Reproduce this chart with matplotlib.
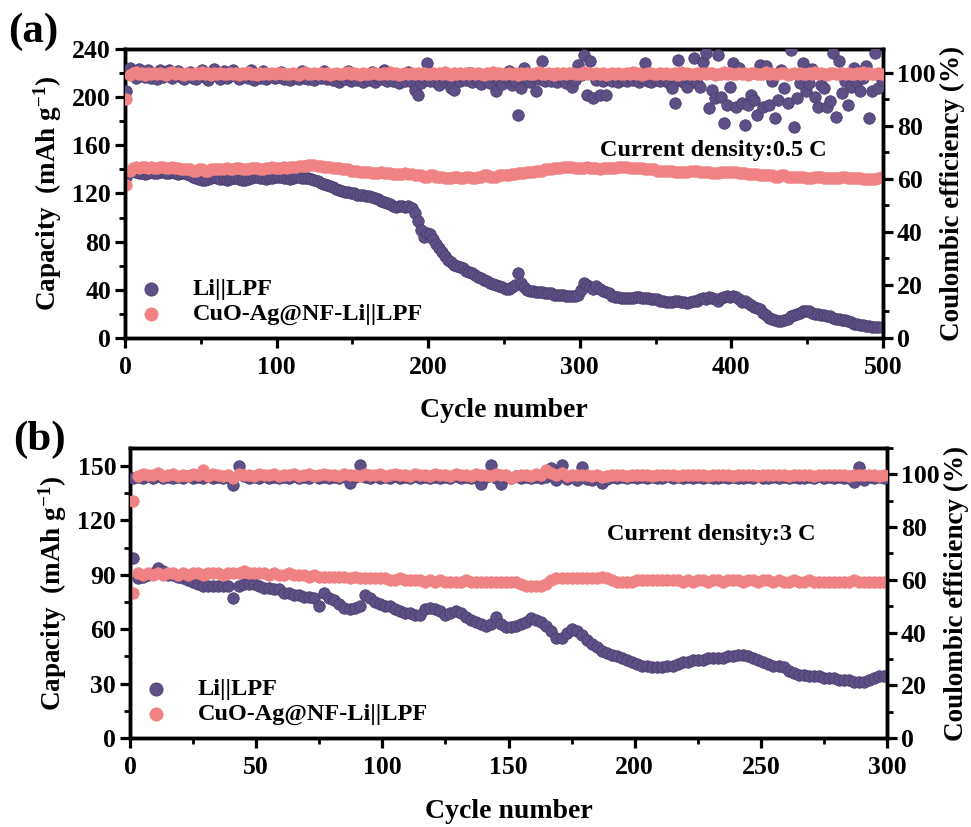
import numpy as np
import matplotlib
matplotlib.use("Agg")
import matplotlib.pyplot as plt
from matplotlib.ticker import MultipleLocator

plt.rcParams['font.family'] = ['Liberation Serif', 'DejaVu Serif']
plt.rcParams['font.weight'] = 'bold'
plt.rcParams['axes.labelweight'] = 'bold'
plt.rcParams['mathtext.fontset'] = 'custom'
plt.rcParams['mathtext.rm'] = 'Liberation Serif:bold'
plt.rcParams['mathtext.bf'] = 'Liberation Serif:bold'
plt.rcParams['mathtext.default'] = 'bf'

# ---- data, panel (a): 0.5 C, every 2nd cycle ----
cyc_a = np.arange(1, 501, 2)

li_cap_a = [134,138,139,138,137,137,136,137,138,137,
            137,138,138,137,137,138,137,136,137,137,
            136,135,134,133,132,131,131,132,133,134,
            133,132,132,131,132,133,133,132,131,131,
            132,133,134,134,133,133,132,133,133,134,
            134,134,133,133,132,133,134,134,133,133,
            133,132,131,130,129,128,127,126,125,124,
            123,122,121,121,120,120,119,119,119,118,
            118,117,116,115,114,113,112,111,110,109,
            110,110,109,110,108,104,97,90,84,87,
            86,82,78,75,71,68,65,63,61,60,
            59,58,56,55,54,52,51,50,48,47,
            46,45,44,43,42,41,41,42,44,54,
            46,42,40,39,39,38,38,38,37,37,
            37,36,36,36,36,35,35,35,35,36,
            40,46,44,42,41,43,41,39,38,37,
            35,34,34,33,33,33,33,33,34,34,
            33,33,33,32,32,32,31,31,30,30,
            30,31,31,30,30,29,30,31,31,32,
            33,32,34,33,32,31,33,34,35,34,
            35,34,32,30,31,29,27,26,25,24,
            21,19,17,16,15,14,14,15,16,18,
            19,20,21,22,22,22,21,20,20,19,
            19,18,18,17,16,16,15,15,14,13,
            12,12,11,11,10,10,9,9,9,9]

cuo_cap_a = [127,139,141,142,141,142,142,141,142,141,
             141,142,142,141,141,142,141,141,140,140,
             140,140,139,139,140,140,139,139,140,140,
             140,140,140,141,140,140,141,141,140,140,
             140,141,141,141,140,140,141,141,142,141,
             141,141,142,141,142,142,142,143,143,143,
             144,144,144,143,143,142,142,142,141,141,
             141,140,140,140,139,139,139,138,138,138,
             138,137,137,137,138,137,137,137,136,136,
             136,136,137,136,136,135,135,135,134,134,
             135,135,134,134,134,133,133,133,134,134,
             133,133,134,134,133,133,134,134,135,135,
             134,134,134,135,135,135,135,136,136,137,
             137,137,138,138,138,139,139,139,140,140,
             140,141,141,141,142,142,142,142,141,141,
             141,141,142,141,141,141,140,141,141,141,
             141,141,142,142,142,142,141,141,141,141,
             141,140,140,140,140,139,139,139,139,139,
             139,138,138,138,138,138,139,139,139,138,
             138,138,138,137,137,137,138,138,138,138,
             138,138,137,137,137,136,136,136,136,135,
             135,135,135,135,134,134,135,135,134,134,
             134,134,134,134,133,133,133,134,134,134,
             133,133,133,133,133,133,134,134,133,133,
             133,133,133,132,132,132,132,132,133,134]

li_ce_a = [93.1,101.8,100.5,98.2,101.5,99.0,98.5,101.2,98.0,99.5,
           97.5,101.0,98.6,99.3,101.2,98.2,99.0,100.8,98.4,97.8,
           99.6,100.4,98.2,97.6,99.0,101.0,98.3,97.4,98.8,101.6,
           99.2,97.6,100.6,98.0,98.8,101.2,99.0,97.8,98.4,99.5,
           98.0,101.0,97.4,98.8,98.0,100.6,97.6,98.4,99.2,97.9,
           98.6,100.4,97.8,98.6,97.4,99.0,98.2,97.6,100.6,98.0,
           97.8,98.8,97.2,99.4,98.0,100.8,97.6,98.4,97.2,98.8,
           96.4,98.0,97.6,100.6,96.8,98.2,97.4,99.0,96.6,98.0,
           97.2,100.4,96.5,98.2,97.6,101.0,96.8,98.4,97.0,99.0,
           96.2,98.6,97.0,100.4,96.5,93.5,91.5,96.0,98.2,103.8,
           97.0,98.6,96.5,95.5,99.4,97.0,98.2,94.2,93.5,97.6,
           96.8,98.5,97.2,99.8,96.4,98.2,97.0,95.8,98.6,97.4,
           96.0,98.8,93.0,97.4,95.8,98.4,100.5,95.5,97.0,84.2,
           94.2,101.8,97.2,96.6,98.8,93.2,97.6,104.3,96.8,98.2,
           97.0,99.4,96.4,98.2,97.6,96.2,98.6,94.8,97.4,103.0,
           99.0,106.8,91.7,104.3,90.4,97.2,91.7,96.8,91.7,98.0,
           97.0,99.4,96.6,98.0,97.4,96.8,98.6,97.2,99.0,96.6,
           98.2,103.7,97.0,96.4,98.6,97.2,96.8,98.4,97.0,96.2,
           94.2,88.6,104.9,97.0,96.4,94.6,98.0,105.5,96.2,94.8,
           104.0,107.4,86.7,93.6,90.4,106.8,91.0,81.0,88.0,94.8,
           103.7,87.3,102.0,88.6,80.4,88.0,91.7,89.8,84.2,103.0,
           87.3,102.4,88.0,97.0,82.9,89.8,101.0,94.2,88.6,108.5,
           79.7,90.4,96.2,103.7,93.0,96.1,101.4,91.0,87.3,95.5,
           94.2,87.3,89.2,107.4,83.5,104.3,92.3,97.0,88.0,94.6,
           101.8,96.4,93.0,98.0,102.4,82.9,93.0,107.4,94.2,97.4]

cuo_ce_a = [90.0,99.2,99.8,100.2,99.5,99.9,99.3,100.1,99.6,99.8,
            99.4,100.0,99.7,99.2,99.9,100.3,99.5,99.8,99.6,99.3,
            100.1,99.7,99.4,99.9,99.6,100.2,99.5,99.8,99.3,99.9,
            99.6,100.0,99.4,99.7,100.1,99.5,99.8,99.2,99.9,99.6,
            100.2,99.5,99.7,99.3,99.9,99.6,100.0,99.4,99.8,99.5,
            99.9,100.1,99.4,99.7,99.5,100.0,99.6,99.3,99.8,100.2,
            99.5,99.7,99.9,99.4,100.1,99.6,99.8,99.3,99.7,100.0,
            99.6,99.4,99.9,100.2,99.5,99.8,99.6,99.3,100.0,99.7,
            99.5,99.9,100.1,99.6,99.4,99.8,99.7,100.2,99.5,99.9,
            99.3,99.7,100.0,99.6,99.8,99.4,100.1,99.5,99.9,99.7,
            99.6,100.0,99.4,99.8,99.5,100.2,99.7,99.3,99.9,99.6,
            100.1,99.5,99.8,99.4,99.9,99.6,100.0,99.7,99.3,99.8,
            99.6,100.2,99.5,99.9,99.4,99.7,100.1,99.6,99.8,99.3,
            99.9,99.5,100.0,99.7,99.4,99.8,100.2,99.6,99.5,99.9,
            99.7,99.3,100.1,99.6,99.8,99.4,99.9,100.0,99.5,99.7,
            99.6,100.2,99.4,99.8,99.5,99.9,99.7,100.1,99.3,99.6,
            99.8,99.5,100.0,99.7,99.4,99.9,99.6,100.2,99.5,99.8,
            99.3,99.7,99.9,100.1,99.6,99.4,99.8,99.5,100.0,99.7,
            99.6,99.9,99.3,100.2,99.5,99.8,99.7,99.4,100.1,99.6,
            99.9,99.5,99.8,100.0,99.3,99.7,99.6,100.2,99.4,99.9,
            99.7,99.5,100.1,99.6,99.8,99.3,99.9,100.0,99.5,99.7,
            99.6,100.2,99.4,99.8,99.7,99.5,100.1,99.9,99.3,99.6,
            99.8,99.5,100.0,99.7,99.4,99.9,99.6,100.2,99.5,99.8,
            99.7,99.3,99.9,100.1,99.6,99.4,99.8,99.5,100.0,99.7,
            99.6,99.9,99.5,100.2,99.4,99.8,99.7,99.5,100.1,99.6]

# ---- data, panel (b): 3 C, every 2nd cycle ----
cyc_b = np.arange(1, 301, 2)

li_cap_b = [99.4,88,89,90,91,94,92,90,90,89,
            88,87,86,85,84,84,84,84,84,84,
            77,84,85,85,85,84,83,83,82,82,
            80,80,79,79,78,78,77,73,80,77,
            76,74,72,71,72,73,79,77,75,74,
            73,73,71,70,69,69,68,68,71,72,
            71,70,68,69,70,69,67,65,64,63,
            62,63,67,63,61,61,62,63,64,66,
            65,64,62,59,55,55,58,60,59,57,
            54,52,50,48,47,46,45,44,43,42,
            41,40,40,39,39,39,40,40,41,42,
            42,43,43,43,44,44,44,44,45,45,
            46,46,45,44,43,42,41,40,40,39,
            37,36,35,35,34,34,34,33,33,33,
            32,32,32,31,31,31,32,33,34,34]

cuo_cap_b = [80,91,90,91,90,91,90,91,91,90,
             91,90,91,91,90,91,91,91,90,91,
             91,91,92,91,91,91,91,90,91,90,
             90,91,90,90,90,89,90,89,89,89,
             89,89,89,88,89,88,88,88,88,88,
             88,87,87,88,87,87,87,87,86,87,
             86,87,86,86,86,86,87,86,86,86,
             86,86,86,86,86,86,86,85,84,84,
             84,84,85,87,88,88,88,88,88,88,
             88,88,88,89,88,87,86,86,86,86,
             87,87,87,87,87,87,87,87,87,86,
             87,86,87,87,86,87,87,86,87,87,
             87,86,87,87,86,87,87,86,87,86,
             86,87,86,86,87,86,86,86,86,86,
             86,86,86,87,86,86,86,86,86,86]

li_ce_b = [98.5,99.0,98.6,99.2,98.8,99.4,98.7,99.0,98.6,99.1,
           98.8,99.3,98.7,99.0,98.5,99.2,98.8,99.1,98.7,99.0,
           96.0,103.0,99.2,98.6,99.0,98.8,99.3,98.6,99.1,98.8,
           99.0,98.7,99.2,98.5,99.0,98.8,99.3,98.6,99.1,98.7,
           99.0,98.6,99.2,96.8,98.9,103.5,99.0,98.6,99.2,98.8,
           99.0,98.5,99.3,98.7,99.0,98.8,99.2,98.6,99.0,98.7,
           99.1,98.6,99.0,98.8,99.2,98.5,99.0,98.7,99.1,96.5,
           99.0,103.6,98.6,96.4,99.0,98.8,99.2,98.6,99.0,98.7,
           99.1,98.6,99.0,102.5,98.0,103.6,98.2,99.4,98.0,102.8,
           98.4,97.8,98.8,96.9,98.4,99.0,98.6,98.9,98.5,99.0,
           98.7,99.1,98.6,99.0,98.5,98.8,99.2,98.6,99.0,98.5,
           98.9,98.6,99.1,98.7,99.0,98.5,98.8,99.0,98.6,99.1,
           98.7,98.5,99.0,98.6,99.2,98.8,98.5,99.0,98.7,98.9,
           98.6,99.1,98.5,98.8,99.0,98.6,99.2,98.7,98.9,98.5,
           99.0,98.6,98.8,97.2,102.6,98.0,99.0,98.7,98.9,98.8]

cuo_ce_b = [90.0,99.2,100.1,99.6,99.9,100.4,99.3,99.8,100.2,99.5,
            99.9,99.4,100.3,99.7,101.6,99.5,100.0,99.6,99.3,99.8,
            98.6,100.2,99.7,99.9,99.4,100.1,99.6,99.8,100.3,99.5,
            99.9,99.6,100.2,99.4,99.8,100.0,99.5,99.9,100.2,99.6,
            99.8,99.4,100.1,99.7,99.9,99.5,100.2,99.6,99.8,100.0,
            99.5,99.9,100.3,99.6,99.8,99.4,100.1,99.7,99.9,99.5,
            100.2,99.6,99.8,99.4,100.0,99.7,99.9,99.5,100.2,99.6,
            99.8,99.5,100.1,99.7,99.9,98.8,99.2,99.6,99.8,99.5,
            100.0,99.6,101.8,100.4,99.8,100.6,99.5,99.9,99.6,99.8,
            99.7,99.5,99.9,98.9,99.4,99.8,99.6,99.9,99.5,99.7,
            99.8,99.6,99.9,99.5,99.7,99.8,99.6,99.9,99.5,99.7,
            99.8,99.6,99.7,99.9,99.5,99.8,99.6,99.7,99.9,99.5,
            99.7,99.8,99.6,99.9,99.5,99.7,99.8,99.6,99.9,99.7,
            99.5,99.8,99.6,99.7,99.9,99.5,99.8,99.6,99.7,99.9,
            99.6,99.8,99.5,99.7,99.9,99.6,99.8,99.7,99.5,99.8]

labels = ['Li||LPF', 'CuO-Ag@NF-Li||LPF']
purple = '#5E4F86'
pink = '#F08284'
ms = 68

fig = plt.figure(figsize=(9.71, 8.27), dpi=100)


def style_axes(ax, ax2):
    for a in (ax, ax2):
        for sp in a.spines.values():
            sp.set_linewidth(2.5)
        a.tick_params(which='major', direction='out', length=7, width=2.3, labelsize=18.5, pad=3)
        a.tick_params(which='minor', direction='out', length=4, width=2.0)
    ax.tick_params(axis='x', which='major', pad=6)
    ax.tick_params(axis='y', which='both', right=False)
    ax2.tick_params(axis='y', which='both', left=False)


def panel(rect, cyc, li_cap, cuo_cap, li_ce, cuo_ce, xmax, xmaj, xmin_, ymax, ymaj, ymin_, ce_top, text, text_xy):
    ax = fig.add_axes(rect)
    ax2 = ax.twinx()
    s1 = ax.scatter(cyc, li_cap, s=ms, color=purple, edgecolors='#4B3F70', linewidths=0.6, zorder=3)
    s2 = ax.scatter(cyc, cuo_cap, s=ms, color=pink, edgecolors=pink, linewidths=0.6, zorder=4)
    ax2.scatter(cyc, li_ce, s=ms, color=purple, edgecolors='#4B3F70', linewidths=0.6, zorder=3)
    ax2.scatter(cyc, cuo_ce, s=ms, color=pink, edgecolors=pink, linewidths=0.6, zorder=4)
    ax.set_xlim(0, xmax)
    ax.set_ylim(0, ymax)
    ax2.set_ylim(0, ce_top)
    ax.xaxis.set_major_locator(MultipleLocator(xmaj))
    ax.xaxis.set_minor_locator(MultipleLocator(xmin_))
    ax.yaxis.set_major_locator(MultipleLocator(ymaj))
    ax.yaxis.set_minor_locator(MultipleLocator(ymin_))
    ax2.yaxis.set_major_locator(MultipleLocator(20))
    ax2.yaxis.set_minor_locator(MultipleLocator(10))
    style_axes(ax, ax2)
    ax.set_xlabel('Cycle number', fontsize=20, labelpad=14)
    ax.set_ylabel('Capacity  (mAh g$^{-1}$)', fontsize=19.5, labelpad=6)
    ax2.set_ylabel('Coulombic efficiency (%)', fontsize=19.5, labelpad=3)
    ax2.text(text_xy[0], text_xy[1], text, fontsize=17.5, fontweight='bold', va='center', ha='left',
             transform=ax.transData)
    ax.legend([s1, s2], labels, loc='lower left', bbox_to_anchor=(-0.02, -0.015), frameon=False,
              fontsize=17.5, handletextpad=0.7, labelspacing=0.12, borderaxespad=0.3, scatterpoints=1,
              markerscale=1.15)
    return ax, ax2


panel([0.1287, 0.5913, 0.7807, 0.3495], cyc_a, li_cap_a, cuo_cap_a, li_ce_a, cuo_ce_a,
      500, 100, 50, 240, 40, 20, 109, 'Current density:0.5 C', (313, 156))
panel([0.1339, 0.1076, 0.7796, 0.3507], cyc_b, li_cap_b, cuo_cap_b, li_ce_b, cuo_ce_b,
      300, 50, 25, 160, 30, 15, 110, 'Current density:3 C', (189, 112))

fig.text(0.008, 0.962, '(a)', fontsize=31, fontweight='bold', va='center', ha='left')
fig.text(0.014, 0.468, '(b)', fontsize=31, fontweight='bold', va='center', ha='left')

fig.savefig('out.png', dpi=100)
